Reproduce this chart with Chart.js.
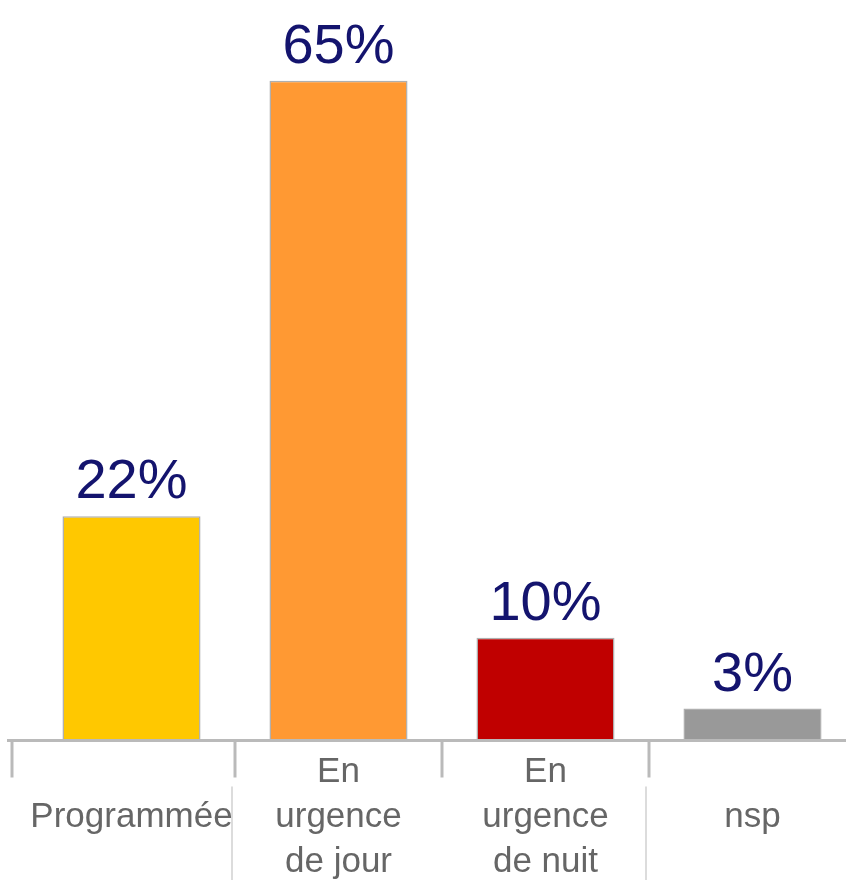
<!DOCTYPE html>
<html>
<head>
<meta charset="utf-8">
<script src="https://cdn.jsdelivr.net/npm/chart.js@4/dist/chart.umd.min.js"></script>
<style>
  html, body { margin: 0; padding: 0; background: #fff; overflow: hidden; }
  #wrap { position: relative; width: 858px; height: 880px; }
</style>
</head>
<body>
<div id="wrap"><canvas id="mycanvas"></canvas></div>
<script>
// categories (multi-line), values in %, bar colours
var categories = [['', 'Programmée'], ['En', 'urgence', 'de jour'], ['En', 'urgence', 'de nuit'], ['', 'nsp']];
var values = [22, 65, 10, 3];
var colors = ['#FFC800', '#FF9933', '#C00000', '#999999'];

// value labels above bars
var valueLabels = {
	id: 'valueLabels',
	afterDatasetsDraw: function(chart) {
		var ctx = chart.ctx;
		var meta = chart.getDatasetMeta(0);
		ctx.save();
		ctx.font = '56px "Liberation Sans", Arial, sans-serif';
		ctx.fillStyle = '#14146e';
		ctx.textAlign = 'center';
		ctx.textBaseline = 'alphabetic';
		meta.data.forEach(function(bar, i) {
			ctx.fillText(values[i] + '%', bar.x, bar.y - 18);
		});
		ctx.restore();
	}
};

// baseline, tick marks and label separators
var axisLines = {
	id: 'axisLines',
	afterDraw: function(chart) {
		var ctx = chart.ctx;
		var area = chart.chartArea;
		var x = chart.scales.x;
		var half = (x.getPixelForValue(1) - x.getPixelForValue(0)) / 2;
		var y0 = area.bottom + 1.5;
		ctx.save();
		ctx.strokeStyle = '#bababa';
		ctx.lineWidth = 3;
		ctx.beginPath();
		ctx.moveTo(7, y0);
		ctx.lineTo(chart.width, y0);
		ctx.stroke();
		for (var i = 0; i < categories.length; i++) {
			var tx = x.getPixelForValue(i) - half;
			if (i === 0) tx -= 16;
			ctx.beginPath();
			ctx.moveTo(tx, y0);
			ctx.lineTo(tx, y0 + 37);
			ctx.stroke();
		}
		ctx.strokeStyle = '#d0d0d0';
		ctx.lineWidth = 1.5;
		[1, 3].forEach(function(i) {
			var sx = x.getPixelForValue(i) - half - 3;
			ctx.beginPath();
			ctx.moveTo(sx, y0 + 46);
			ctx.lineTo(sx, chart.height);
			ctx.stroke();
		});
		ctx.restore();
	}
};

var chartdata = {
	labels: categories,
	datasets: [{
		data: values,
		backgroundColor: colors,
		borderColor: 'rgba(110,110,110,0.55)',
		borderWidth: 1.5,
		barPercentage: 0.667,
		categoryPercentage: 1
	}]
};

var barGraph = new Chart(document.getElementById('mycanvas'), {
	type: 'bar',
	data: chartdata,
	plugins: [valueLabels, axisLines],
	options: {
		responsive: true,
		maintainAspectRatio: false,
		animation: false,
		layout: { padding: { left: 28, right: 2, top: 30, bottom: 0 } },
		plugins: { legend: { display: false }, tooltip: { enabled: false } },
		scales: {
			y: { display: false, min: 0, max: 70 },
			x: {
				afterFit: function(scale) { scale.height = 141; },
				grid: { display: false },
				border: { display: false },
				ticks: {
					padding: 3,
					color: '#666666',
					maxRotation: 0,
					autoSkip: false,
					font: { family: '"Liberation Sans", Arial, sans-serif', size: 35, lineHeight: 1.28 }
				}
			}
		}
	}
});
</script>
</body>
</html>
